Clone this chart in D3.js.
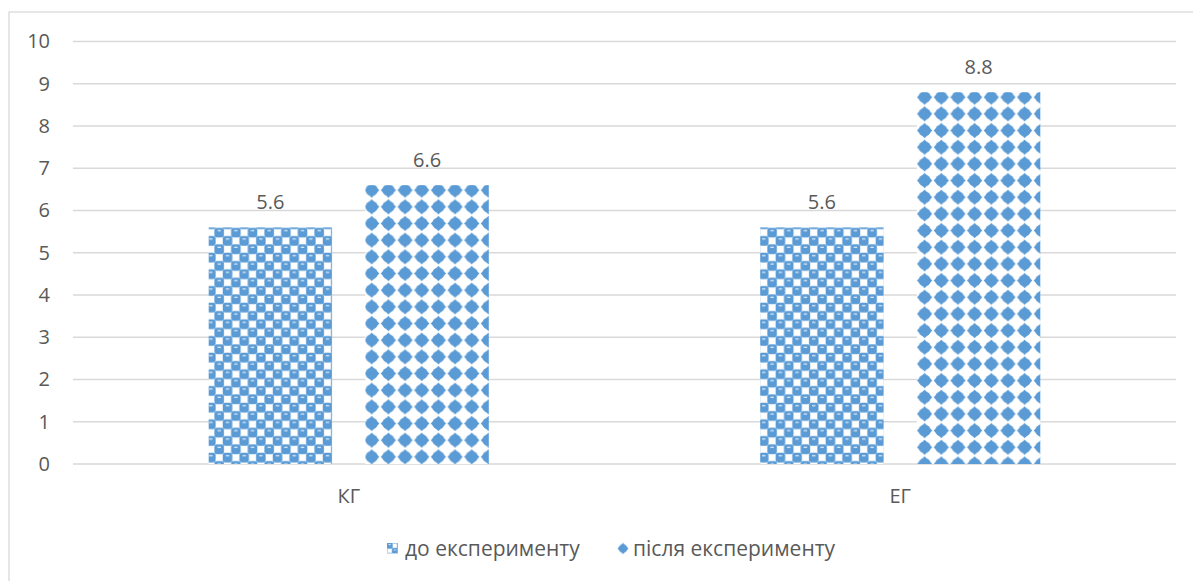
<!DOCTYPE html>
<html>
<head>
<meta charset="utf-8">
<script src="https://cdn.jsdelivr.net/npm/d3@7"></script>
<style>
  html, body { margin: 0; padding: 0; background: #fff; }
  svg { display: block; }
  text { font-family: "Open Sans", "Liberation Sans", sans-serif; fill: #595959; }
</style>
</head>
<body>
<svg id="chart" width="1193" height="581"></svg>
<script>
// Group categories and the two measured series
const categories = ["КГ", "ЕГ"];
const seriesNames = ["до експерименту", "після експерименту"];
const beforeValues = [5.6, 5.6];
const afterValues = [6.6, 8.8];
const yTickValues = [0, 1, 2, 3, 4, 5, 6, 7, 8, 9, 10];

const blue = "#5b9bd5";
const gridColor = "#d9d9d9";
const tile = 16.67;

const svg = d3.select("#chart");
const defs = svg.append("defs");

// Outer chart frame
svg.append("rect")
  .attr("x", 9).attr("y", 12)
  .attr("width", 1300).attr("height", 700)
  .attr("fill", "#fff")
  .attr("stroke", gridColor).attr("stroke-width", 1.3);

const plot = { left: 73, right: 1176, top: 41.5, bottom: 464 };

const x0 = d3.scaleBand()
  .domain(categories)
  .range([plot.left, plot.right])
  .paddingInner(0).paddingOuter(0);

const x1 = d3.scaleBand()
  .domain(seriesNames)
  .range([0, x0.bandwidth()])
  .paddingInner(0.2125).paddingOuter(0.866);

const y = d3.scaleLinear().domain([0, 10]).range([plot.bottom, plot.top]);

// Gridlines
svg.append("g")
  .selectAll("line")
  .data(yTickValues)
  .join("line")
  .attr("x1", plot.left).attr("x2", plot.right)
  .attr("y1", d => y(d)).attr("y2", d => y(d))
  .attr("stroke", gridColor).attr("stroke-width", 1.4);

// Y axis labels
const yAxis = d3.axisLeft(y).tickValues(yTickValues).tickSize(0).tickPadding(0).tickFormat(d3.format("d"));
const yG = svg.append("g").attr("transform", "translate(50,0)").call(yAxis);
yG.select(".domain").remove();
yG.selectAll("text")
  .attr("font-size", 20)
  .attr("font-family", "Open Sans")
  .attr("fill", "#595959");

// Checkerboard fill: rounded blue cells with a small white highlight
function makeChecker(id, ox, oy, size) {
  const s = size;
  const p = defs.append("pattern")
    .attr("id", id)
    .attr("patternUnits", "userSpaceOnUse")
    .attr("x", ox).attr("y", oy)
    .attr("width", s).attr("height", s);
  p.append("rect").attr("width", s).attr("height", s).attr("fill", "#fff");
  const h = s / 2;
  const cell = h * 1.15;
  const spots = [[0, 0], [h, h], [s, 0], [0, s], [s, s], [-h, h], [h, -h]];
  spots.forEach(([cx, cy]) => {
    p.append("rect")
      .attr("x", cx - (cell - h) / 2).attr("y", cy - (cell - h) / 2)
      .attr("width", cell).attr("height", cell)
      .attr("rx", h * 0.3).attr("fill", blue);
  });
  spots.forEach(([cx, cy]) => {
    p.append("rect")
      .attr("x", cx + h * 0.3).attr("y", cy + h * 0.2)
      .attr("width", h * 0.4).attr("height", Math.max(1, h * 0.14))
      .attr("fill", "#fff").attr("opacity", 0.85);
  });
}

// Rounded four-point star fill
function makeDiamond(id, ox, oy, size) {
  const s = size;
  const p = defs.append("pattern")
    .attr("id", id)
    .attr("patternUnits", "userSpaceOnUse")
    .attr("x", ox).attr("y", oy)
    .attr("width", s).attr("height", s);
  p.append("rect").attr("width", s).attr("height", s).attr("fill", "#fff");
  const c = s / 2, r = s * 0.46, rc = s * 0.36;
  p.append("path")
    .attr("d", `M${c},${c - r} L${c + r},${c} L${c},${c + r} L${c - r},${c} Z`)
    .attr("fill", blue);
  p.append("circle").attr("cx", c).attr("cy", c).attr("r", rc).attr("fill", blue);
}

const rows = categories.map((cat, i) => ({
  cat,
  bars: [
    { series: seriesNames[0], value: beforeValues[i], kind: "checker" },
    { series: seriesNames[1], value: afterValues[i], kind: "diamond" }
  ]
}));

const groups = svg.append("g")
  .selectAll("g")
  .data(rows)
  .join("g")
  .attr("transform", d => `translate(${x0(d.cat)},0)`);

groups.each(function (row, gi) {
  const g = d3.select(this);
  row.bars.forEach((b, bi) => {
    const bx = x0(row.cat) + x1(b.series);
    const top = y(b.value);
    const id = `fill-${gi}-${bi}`;
    if (b.kind === "checker") makeChecker(id, bx, top + 1, tile);
    else makeDiamond(id, bx - tile / 2, top + 5 - tile / 2, tile);
    g.append("rect")
      .attr("x", x1(b.series))
      .attr("y", top)
      .attr("width", x1.bandwidth())
      .attr("height", y(0) - top)
      .attr("fill", `url(#${id})`);
    g.append("text")
      .attr("x", x1(b.series) + x1.bandwidth() / 2)
      .attr("y", top - 18)
      .attr("text-anchor", "middle")
      .attr("font-size", 20)
      .text(d3.format(".1f")(b.value));
  });
});

// Category labels
svg.append("g")
  .selectAll("text")
  .data(categories)
  .join("text")
  .attr("x", d => x0(d) + x0.bandwidth() / 2)
  .attr("y", 503)
  .attr("text-anchor", "middle")
  .attr("font-size", 20)
  .text(d => d);

// Legend
makeChecker("legend-checker", 387, 543, 10.5);
makeDiamond("legend-diamond", 617, 542.5, 12);
const legend = svg.append("g");
legend.append("rect")
  .attr("x", 387).attr("y", 543)
  .attr("width", 11).attr("height", 10.5)
  .attr("fill", "url(#legend-checker)");
legend.append("rect")
  .attr("x", 617).attr("y", 542.5)
  .attr("width", 12).attr("height", 12)
  .attr("fill", "url(#legend-diamond)");
legend.append("text")
  .attr("x", 405).attr("y", 556)
  .attr("font-size", 21)
  .text(seriesNames[0]);
legend.append("text")
  .attr("x", 633).attr("y", 556)
  .attr("font-size", 21)
  .text(seriesNames[1]);
</script>
</body>
</html>
